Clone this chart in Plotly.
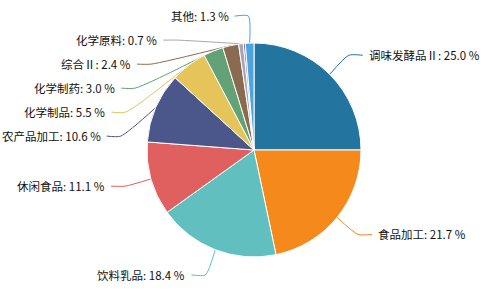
import math
import plotly.graph_objects as go

# ---- data ----
names = ["调味发酵品Ⅱ", "食品加工", "饮料乳品", "休闲食品", "农产品加工",
         "化学制品", "化学制药", "综合Ⅱ", "化学原料", "其他Ⅰ", "其他"]
values = [25.0, 21.7, 18.4, 11.1, 10.6, 5.5, 3.0, 2.4, 0.7, 0.3, 1.3]
show_label = [True, True, True, True, True, True, True, True, True, False, True]
colors = ["#23759f", "#f5891b", "#62bfc0", "#e06060", "#4b568b",
          "#e5c55a", "#62a276", "#8b6b4f", "#a7a7b3", "#8c62c6", "#4aa5dc"]

# ---- layout constants (pixels) ----
W, H = 485, 300
CX, CY, R = 254, 150, 107
LEN1, LEN2, DIST, GAP = 27, 14, 4, 24

total = sum(values)
items = []
acc = 0.0
for i, v in enumerate(values):
    mid = (acc + v / 2) / total * 2 * math.pi
    acc += v
    if not show_label[i]:
        continue
    s, c = math.sin(mid), math.cos(mid)
    ex, ey = CX + R * s, CY - R * c
    rA = R + LEN1
    items.append(dict(i=i, ex=ex, ey=ey, x=CX + rA * s, y=CY - rA * c,
                      dir=1 if s >= 0 else -1, rA=rA))

# overlap avoidance per side
for d in (1, -1):
    side = sorted([it for it in items if it["dir"] == d], key=lambda t: t["y"])
    prev = None
    for it in side:
        if prev is not None and it["y"] < prev + GAP:
            it["y"] = prev + GAP
        prev = it["y"]
    # recalc x on ellipse for top/bottom semis
    for semi in ([t for t in side if t["y"] <= CY], [t for t in side if t["y"] > CY]):
        if not semi:
            continue
        far = max(semi, key=lambda t: abs(t["y"] - CY))
        dy = abs(far["y"] - CY)
        dx = abs(far["x"] - CX)
        rA = far["rA"]
        rB = math.sqrt(dy * dy / (1 - dx * dx / rA / rA)) if dx < rA else rA
        for t in semi:
            ddy = abs(t["y"] - CY)
            val = max(0.0, 1 - ddy * ddy / (rB * rB))
            t["x"] = CX + d * math.sqrt(val) * t["rA"]

fig = go.Figure()
fig.add_trace(go.Pie(
    labels=names, values=values, sort=False, direction="clockwise", rotation=0,
    marker=dict(colors=colors, line=dict(color="white", width=1)),
    textinfo="none", hoverinfo="label+percent", showlegend=False,
    domain=dict(x=[(CX - R) / W, (CX + R) / W], y=[(H - CY - R) / H, (H - CY + R) / H]),
))

for it in items:
    i = it["i"]
    p1x, p1y = it["x"], it["y"]
    p2x = p1x + it["dir"] * LEN2
    fig.add_trace(go.Scatter(
        x=[it["ex"], p1x, p2x], y=[it["ey"], p1y, p1y], mode="lines",
        line=dict(color=colors[i], width=1, shape="spline", smoothing=0.6),
        hoverinfo="skip", showlegend=False, xaxis="x", yaxis="y"))
    fig.add_annotation(
        x=p2x + it["dir"] * DIST, y=p1y, xref="x", yref="y",
        text=f"{names[i]}: {values[i]:.1f} %", showarrow=False,
        xanchor="left" if it["dir"] > 0 else "right", yanchor="middle",
        font=dict(family="Noto Sans CJK SC", size=11.5, color="#111"))

fig.update_layout(
    width=W, height=H, margin=dict(l=0, r=0, t=0, b=0),
    paper_bgcolor="white", plot_bgcolor="rgba(0,0,0,0)",
    xaxis=dict(range=[0, W], visible=False, fixedrange=True),
    yaxis=dict(range=[H, 0], visible=False, fixedrange=True),
)
fig.write_html("out.html")
